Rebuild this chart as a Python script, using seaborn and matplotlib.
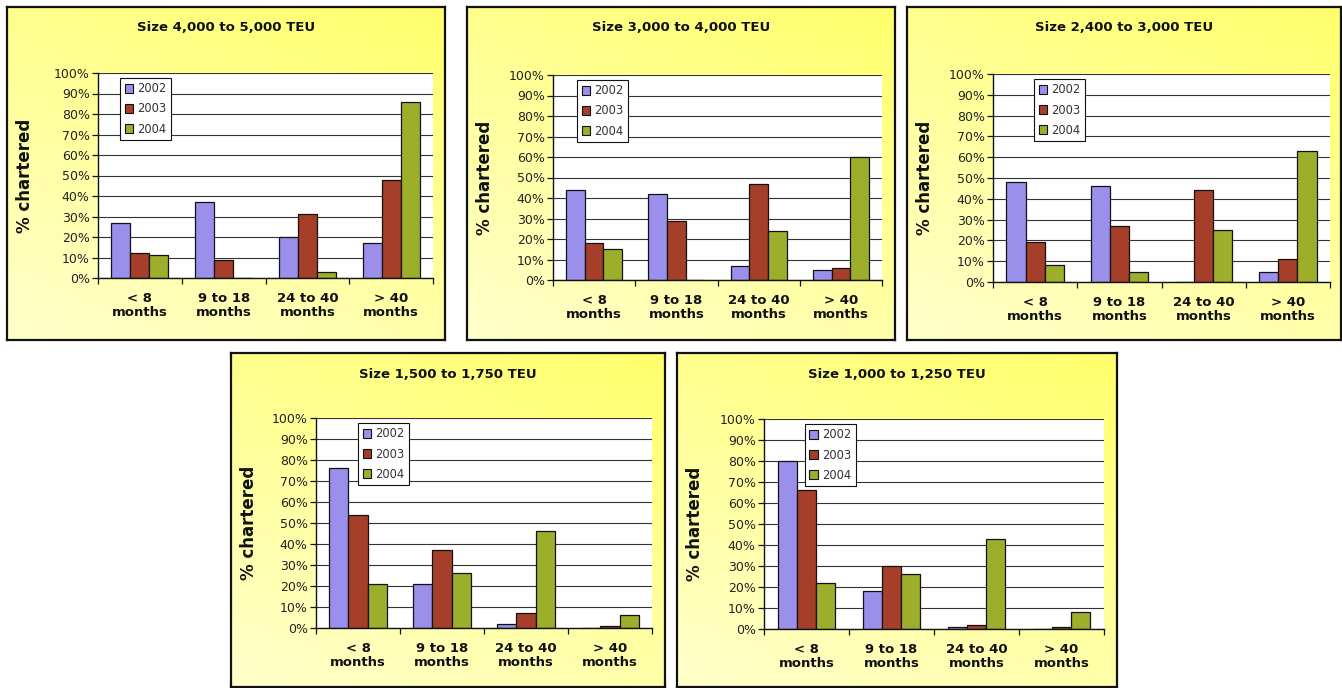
import numpy as np
import pandas as pd
import matplotlib
matplotlib.use("Agg")
import matplotlib.pyplot as plt
from matplotlib.patches import Patch
from matplotlib.ticker import FixedLocator
import seaborn as sns

sns.set_style("white")
plt.rcParams["font.family"] = ["DejaVu Sans"]

# ---- data -------------------------------------------------------------
terms = ["< 8\nmonths", "9 to 18\nmonths", "24 to 40\nmonths", "> 40\nmonths"]
years = ["2002", "2003", "2004"]

titles = [
    "Size 4,000 to 5,000 TEU",
    "Size 3,000 to 4,000 TEU",
    "Size 2,400 to 3,000 TEU",
    "Size 1,500 to 1,750 TEU",
    "Size 1,000 to 1,250 TEU",
]

# percent chartered per term bucket, one list per year
teu_4000_5000 = {"2002": [27, 37, 20, 17], "2003": [12, 9, 31, 48], "2004": [11, 0, 3, 86]}
teu_3000_4000 = {"2002": [44, 42, 7, 5], "2003": [18, 29, 47, 6], "2004": [15, 0, 24, 60]}
teu_2400_3000 = {"2002": [48, 46, 0, 5], "2003": [19, 27, 44, 11], "2004": [8, 5, 25, 63]}
teu_1500_1750 = {"2002": [76, 21, 2, 0], "2003": [54, 37, 7, 1], "2004": [21, 26, 46, 6]}
teu_1000_1250 = {"2002": [80, 18, 1, 0], "2003": [66, 30, 2, 1], "2004": [22, 26, 43, 8]}

series = [teu_4000_5000, teu_3000_4000, teu_2400_3000, teu_1500_1750, teu_1000_1250]

yticks = list(range(0, 101, 10))
ytick_labels = [f"{v}%" for v in yticks]

colors = {"2002": "#9A8FEA", "2003": "#A53F2A", "2004": "#9DAE2A"}

# ---- layout (pixels): panel frame and inner plot area ------------------
W, H = 1342, 688
frames = [(7, 7, 445, 340), (467, 7, 895, 340), (907, 7, 1341, 340),
          (231, 353, 665, 687), (677, 353, 1117, 687)]
plots = [(98, 73, 433, 278), (553, 75, 882, 280), (993, 74, 1330, 282),
         (316, 418, 652, 628), (764, 419, 1104, 629)]
legend_x = [0.066, 0.073, 0.122, 0.125, 0.12]


def fig_rect(x0, y0, x1, y1):
    return [x0 / W, 1 - y1 / H, (x1 - x0) / W, (y1 - y0) / H]


fig = plt.figure(figsize=(W / 100, H / 100), dpi=100)
fig.patch.set_facecolor("white")

# yellow wash: strongest toward the top-right, paler toward the bottom-left
gx, gy = np.meshgrid(np.linspace(0, 1, 200), np.linspace(0, 1, 200))
t = np.clip(0.35 * gx + 0.65 * (1 - gy), 0, 1)  # row 0 is the top
c_hi = np.array([1.0, 1.0, 0.42])
c_lo = np.array([1.0, 1.0, 0.80])
grad = c_lo[None, None, :] * (1 - t[..., None]) + c_hi[None, None, :] * t[..., None]

for title, data, fr, pr, lx in zip(titles, series, frames, plots, legend_x):
    bg = fig.add_axes(fig_rect(*fr), zorder=0)
    bg.imshow(grad, extent=[0, 1, 0, 1], aspect="auto", origin="upper")
    bg.set_xlim(0, 1)
    bg.set_ylim(0, 1)
    bg.set_xticks([])
    bg.set_yticks([])
    for s in bg.spines.values():
        s.set_linewidth(1.6)
        s.set_color("#111111")
    fh = fr[3] - fr[1]
    bg.text(0.5, 1 - 21 / fh, title, ha="center", va="center",
            fontsize=9.5, fontweight="bold", color="#111111",
            transform=bg.transAxes)

    df = pd.DataFrame({
        "term": [tm for y in years for tm in terms],
        "year": [y for y in years for _ in terms],
        "pct": [v for y in years for v in data[y]],
    })

    ax = fig.add_axes(fig_rect(*pr), zorder=1)
    ax.set_facecolor("white")
    sns.barplot(data=df, x="term", y="pct", hue="year", order=terms,
                hue_order=years, palette=colors, width=0.68,
                edgecolor="#111111", linewidth=0.9, saturation=1,
                legend=False, ax=ax)

    ax.set_ylim(0, 100)
    ax.set_xlim(-0.5, 3.5)
    ax.set_yticks(yticks)
    ax.set_yticklabels(ytick_labels, fontsize=9, color="#222222")
    ax.yaxis.grid(True, color="#333333", linewidth=0.8)
    ax.xaxis.grid(False)
    ax.set_axisbelow(True)
    ax.tick_params(axis="y", direction="out", length=4, width=0.9,
                   color="#111111", left=True, pad=2)

    ax.set_xticks(range(len(terms)))
    ax.set_xticklabels(terms, fontsize=9.5, fontweight="bold", color="#111111",
                       linespacing=1.15)
    ax.tick_params(axis="x", which="major", length=0, pad=10)
    ax.xaxis.set_minor_locator(FixedLocator([-0.5, 0.5, 1.5, 2.5, 3.5]))
    ax.tick_params(axis="x", which="minor", direction="out", length=4,
                   width=0.9, color="#111111", bottom=True)

    for side in ("top", "right"):
        ax.spines[side].set_visible(False)
    for side in ("left", "bottom"):
        ax.spines[side].set_visible(True)
        ax.spines[side].set_color("#111111")
        ax.spines[side].set_linewidth(1.0)

    ax.set_xlabel("")
    pw = pr[2] - pr[0]
    ax.set_ylabel("% chartered", fontsize=12, fontweight="bold", color="#111111")
    ax.yaxis.set_label_coords(-(pr[0] - fr[0] - 27) / pw, 0.5)

    handles = [Patch(facecolor=colors[y], edgecolor="#111111", linewidth=0.8)
               for y in years]
    leg = ax.legend(handles, years, loc="upper left",
                    bbox_to_anchor=(lx, 0.977), frameon=True, fancybox=False,
                    edgecolor="#111111", framealpha=1, fontsize=8.3,
                    handlelength=0.75, handleheight=0.75, handletextpad=0.35,
                    labelspacing=0.62, borderpad=0.4, borderaxespad=0)
    leg.get_frame().set_linewidth(0.8)
    for txt in leg.get_texts():
        txt.set_color("#333333")

fig.savefig("out.png", dpi=100)
